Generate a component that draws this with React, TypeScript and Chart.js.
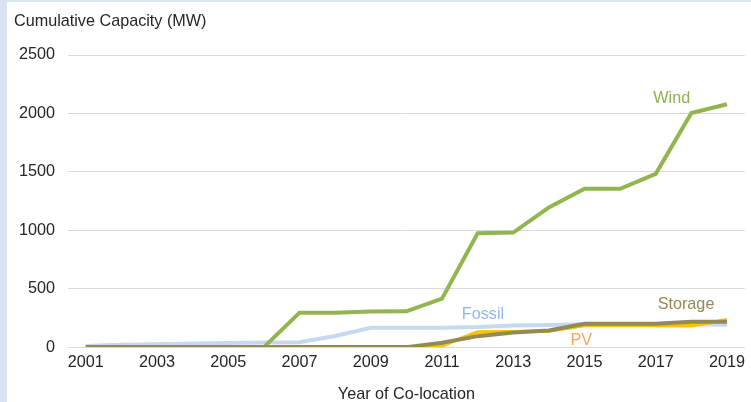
import React, { useEffect, useRef } from "react";
import { Chart, registerables } from "chart.js";

Chart.register(...registerables);

const years = ["2001","2002","2003","2004","2005","2006","2007","2008","2009","2010","2011","2012","2013","2014","2015","2016","2017","2018","2019"];
const windValues = [0,0,0,0,0,0,295,295,305,306,415,975,980,1195,1355,1355,1483,2004,2079];
const fossilValues = [10,20,25,30,35,40,42,95,166,166,166,172,185,190,195,195,195,195,192];
const pvValues = [0,0,0,0,0,0,0,0,0,0,12,130,132,138,185,185,185,182,235];
const storageValues = [0,0,0,0,0,0,0,0,0,0,37,94,125,143,200,200,200,218,218];

const seriesNames = ["Wind", "Fossil", "PV", "Storage"];
const seriesColors = ["#92B550", "#C6D9F1", "#FFC000", "#948A54"];
const labelColors = ["#8FB24F", "#95B8E6", "#F7A35C", "#948A54"];
const labelAtIndex = [16.45, 11.15, 13.91, 16.85];
const labelAtValue = [2130, 283, 60, 361];

const FONT = "'Liberation Sans', Arial, sans-serif";
const FS = 16.2;

const textPlugin = {
  id: "texts",
  afterDatasetsDraw(chart: any) {
    const ctx = chart.ctx;
    const x = chart.scales.x;
    const y = chart.scales.y;
    ctx.save();
    ctx.font = `${FS}px ${FONT}`;
    ctx.textAlign = "center";
    ctx.textBaseline = "middle";
    seriesNames.forEach((n, i) => {
      ctx.fillStyle = labelColors[i];
      ctx.fillText(n, x.getPixelForValue(labelAtIndex[i]), y.getPixelForValue(labelAtValue[i]));
    });
    ctx.fillStyle = "#262626";
    ctx.textAlign = "left";
    ctx.fillText("Cumulative Capacity (MW)", 7, 20);
    ctx.restore();
  },
};

export default function App() {
  const ref = useRef<HTMLCanvasElement>(null);
  useEffect(() => {
    document.body.style.margin = "0";
    const datasets = [windValues, fossilValues, pvValues, storageValues].map((d, i) => ({
      label: seriesNames[i],
      data: d,
      borderColor: seriesColors[i],
      backgroundColor: seriesColors[i],
      borderWidth: i === 2 ? 3.5 : 4,
      pointRadius: 0,
      tension: 0,
      order: [1, 3, 2, 0][i],
    }));
    const chart = new Chart(ref.current!, {
      type: "line",
      data: { labels: years, datasets },
      plugins: [textPlugin],
      options: {
        animation: false,
        responsive: false,
        maintainAspectRatio: false,
        layout: { padding: { top: 53, right: 0, left: 0, bottom: 0 } },
        plugins: { legend: { display: false }, tooltip: { enabled: false }, title: { display: false } },
        scales: {
          x: {
            offset: true,
            grid: { display: false, drawTicks: false, offset: true },
            border: { display: true, color: "#D9D9D9", width: 1 },
            ticks: {
              color: "#262626",
              font: { family: FONT, size: FS },
              maxRotation: 0,
              autoSkip: false,
              padding: 6,
              callback: (v: any, i: number) => (i % 2 === 0 ? years[i] : ""),
            },
            title: {
              display: true,
              text: "Year of Co-location",
              color: "#262626",
              font: { family: FONT, size: FS },
              padding: { top: 6, bottom: -2 },
            },
          },
          y: {
            min: 0,
            max: 2500,
            grid: { color: "#D9D9D9", drawTicks: false },
            border: { display: false },
            ticks: {
              stepSize: 500,
              color: "#262626",
              font: { family: FONT, size: FS },
              padding: 13,
              callback: (v: any) => String(v),
            },
            afterFit: (s: any) => {
              s.width = 61;
            },
          },
        },
      },
    });
    return () => chart.destroy();
  }, []);
  return (
    <div style={{ position: "relative", width: 751, height: 402, background: "#DAE3F3", overflow: "hidden" }}>
      <div style={{ position: "absolute", left: 7, top: 2, width: 744, height: 400, background: "#FFFFFF" }}>
        <canvas ref={ref} width={744} height={400} style={{ width: 744, height: 400, display: "block" }} />
      </div>
    </div>
  );
}
